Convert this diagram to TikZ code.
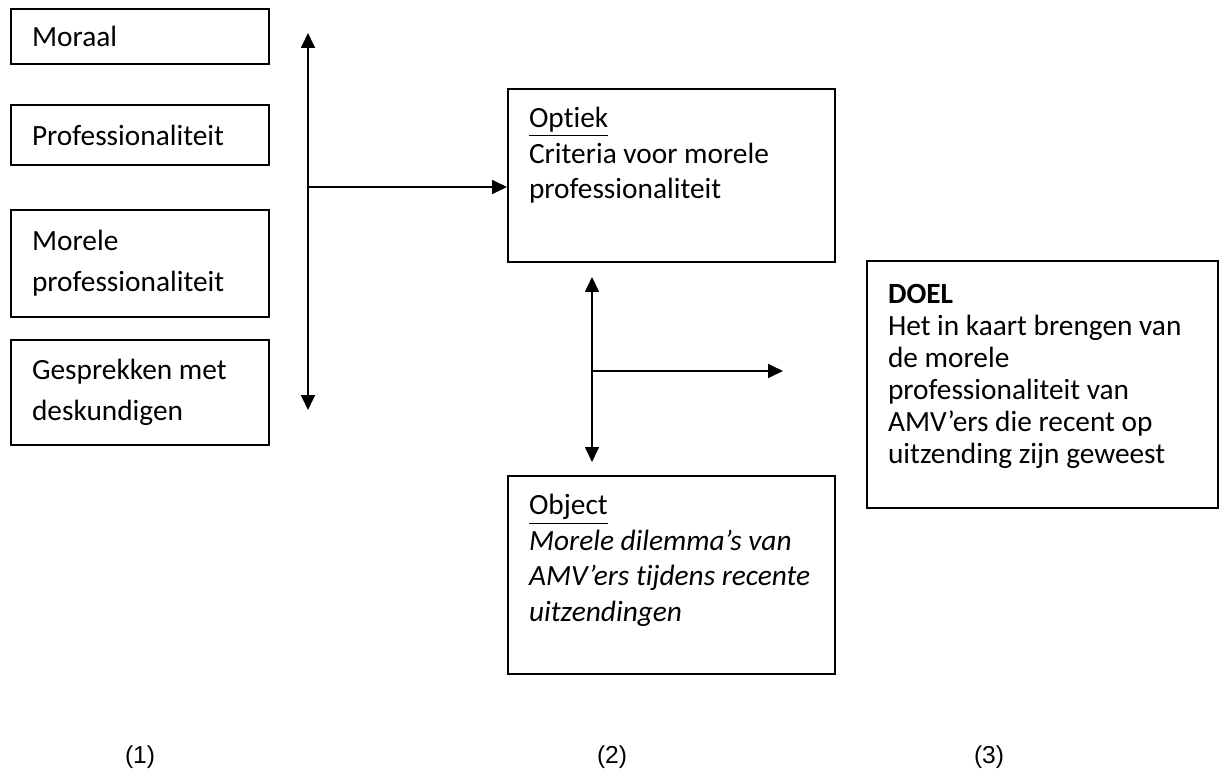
\documentclass[tikz,border=0pt]{standalone}
\usepackage{fontspec}
\setmainfont{Carlito}[Ligatures=NoCommon]
\newfontfamily\labelfont{Liberation Sans}
\usetikzlibrary{arrows.meta,positioning}

\newcommand{\boxtext}[3]{\parbox[c][#2][t]{#1}{\raggedright\strut#3}}

\begin{document}
\begin{tikzpicture}[x=0.375pt,y=-0.375pt,line width=0.75pt,>={Triangle[length=5.6pt,width=5.2pt]}]

\tikzset{leftbox/.style={draw,anchor=north west,align=flush left,minimum width=96.75pt,text width=80.95pt,inner xsep=7.9pt,inner ysep=0pt,font=\fontsize{11}{15.4}\selectfont},
topbox/.style={draw,anchor=north west,inner xsep=7.9pt,inner ysep=5pt,font=\fontsize{11}{13.4}\selectfont},
colnum/.style={font=\labelfont\fontsize{9.2}{11}\selectfont,inner sep=0pt}}

\useasboundingbox (0,0) rectangle (1220,770);

% Left column
\node (moraal) [leftbox,minimum height=20.6pt] at (10,8) {Moraal};
\node (prof) [leftbox,minimum height=22.5pt,below=14.65pt of moraal.south west,anchor=north west] {Professionaliteit};
\node (morprof) [leftbox,minimum height=40.1pt,below=16.15pt of prof.south west,anchor=north west] {Morele\\professionaliteit};
\node (gesprek) [leftbox,minimum height=39.4pt,below=7.85pt of morprof.south west,anchor=north west] {Gesprekken met\\deskundigen};

% Middle column
\node (optiek) [topbox] at (507,88) {\boxtext{106.8pt}{54.9pt}{\underline{Optiek}\\Criteria voor morele\\professionaliteit}};
\node (object) [topbox] at (507,475) {\boxtext{106.8pt}{64.25pt}{\underline{Object}\\\textit{Morele dilemma’s van}\\\textit{AMV’ers tijdens recente}\\\textit{uitzendingen}}};

% Right column
\node (doel) [topbox,inner ysep=7.35pt,font=\fontsize{11}{12}\selectfont] at (866,260) {\boxtext{115.8pt}{77.9pt}{\textbf{DOEL}\\Het in kaart brengen van\\de morele\\professionaliteit van\\AMV’ers die recent op\\uitzending zijn geweest}};

% Arrows left
\coordinate (vtop) at (308,33);
\coordinate (vbot) at (308,410);
\coordinate (hub) at (308,187);
\draw[<->] (vtop) -- (vbot);
\draw[->] (hub) -- (hub -| optiek.west);

% Arrows middle
\coordinate (mtop) at (592,277);
\coordinate (mbot) at (592,462);
\coordinate (mhub) at (592,371);
\coordinate (mend) at (783,371);
\draw[<->] (mtop) -- (mbot);
\draw[->] (mhub) -- (mend);

% Column numbers
\node (num1) [colnum] at (140,757) {(1)};
\node (num2) [colnum] at (612,757) {(2)};
\node (num3) [colnum] at (989,757) {(3)};

\end{tikzpicture}
\end{document}
